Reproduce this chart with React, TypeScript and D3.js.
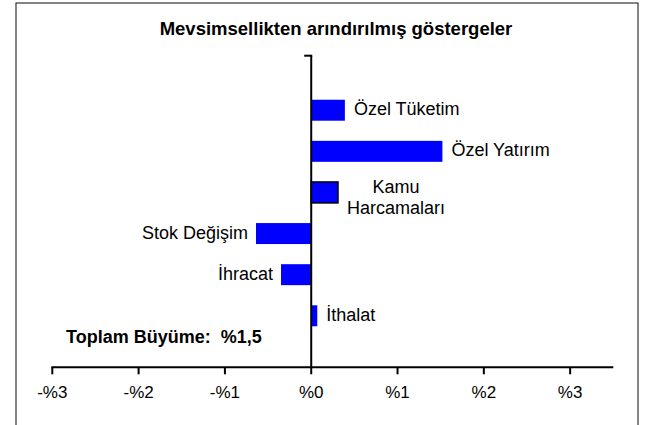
import React from "react";
import * as d3 from "d3";

const categories = ["Özel Tüketim", "Özel Yatırım", "Kamu Harcamaları", "Stok Değişim", "İhracat", "İthalat"];
const values = [0.39, 1.52, 0.31, -0.64, -0.35, 0.07];
const labelLines = [["Özel Tüketim"], ["Özel Yatırım"], ["Kamu", "Harcamaları"], ["Stok Değişim"], ["İhracat"], ["İthalat"]];
const tickValues = [-3, -2, -1, 0, 1, 2, 3];
const tickLabels = ["-%3", "-%2", "-%1", "%0", "%1", "%2", "%3"];
const title = "Mevsimsellikten arındırılmış göstergeler";
const totalNote = "Toplam Büyüme:  %1,5";

const W = 653;
const H = 425;
const FONT = "'Liberation Sans', Arial, Helvetica, sans-serif";

export default function App() {
  const x = d3.scaleLinear().domain([-3, 3.5]).range([52.3, 613.3]);
  const y = d3.scaleBand<string>().domain(categories).range([58, 368]).paddingInner(0.49).paddingOuter(1.015);
  const axisY = 367.3;
  const axisTop = 55.7;
  const x0 = x(0);

  return (
    <div style={{ position: "absolute", left: 0, top: 0 }}>
      <svg width={W} height={H} style={{ display: "block", background: "#fff" }}>
        <rect x={16} y={3} width={622} height={H + 10} fill="#fff" stroke="#333" strokeWidth={1.2} />
        <text x={336} y={35} textAnchor="middle" fontFamily={FONT} fontWeight="bold" fontSize={18.5} fill="#000">
          {title}
        </text>
        {categories.map((c, i) => {
          const v = values[i];
          const bx = Math.min(x(0), x(v));
          const bw = Math.abs(x(v) - x(0));
          const by = y(c)!;
          const bh = y.bandwidth();
          const isKamu = labelLines[i].length > 1;
          return (
            <rect
              key={c}
              x={bx}
              y={by}
              width={bw}
              height={bh}
              fill="#0000FF"
              stroke={isKamu ? "#000" : "none"}
              strokeWidth={isKamu ? 1.5 : 0}
            />
          );
        })}
        {categories.map((c, i) => {
          const v = values[i];
          const cy = y(c)! + y.bandwidth() / 2;
          const lines = labelLines[i];
          if (lines.length > 1) {
            return (
              <text key={c} fontFamily={FONT} fontSize={18} textAnchor="middle" fill="#000">
                {lines.map((l, j) => (
                  <tspan key={j} x={x(v) + 58} y={cy + 1 + j * 21}>
                    {l}
                  </tspan>
                ))}
              </text>
            );
          }
          const pos = v >= 0;
          return (
            <text
              key={c}
              x={pos ? x(v) + 9 : x(v) - 8}
              y={cy + 5}
              textAnchor={pos ? "start" : "end"}
              fontFamily={FONT}
              fontSize={18}
              fill="#000"
            >
              {lines[0]}
            </text>
          );
        })}
        <line x1={x0} x2={x0} y1={axisTop} y2={axisY} stroke="#000" strokeWidth={2} />
        <line x1={x0 - 7} x2={x0 + 1} y1={axisTop} y2={axisTop} stroke="#000" strokeWidth={2} />
        <line x1={x(-3) - 1} x2={x(3.5)} y1={axisY} y2={axisY} stroke="#000" strokeWidth={2} />
        {tickValues.map((t, i) => (
          <g key={t}>
            <line x1={x(t)} x2={x(t)} y1={axisY} y2={axisY + 7} stroke="#000" strokeWidth={2} />
            <text x={x(t)} y={398} textAnchor="middle" fontFamily={FONT} fontSize={17} fill="#000">
              {tickLabels[i]}
            </text>
          </g>
        ))}
        <text x={66} y={343} fontFamily={FONT} fontWeight="bold" fontSize={18} fill="#000" style={{ whiteSpace: "pre" }}>
          {totalNote}
        </text>
      </svg>
    </div>
  );
}
